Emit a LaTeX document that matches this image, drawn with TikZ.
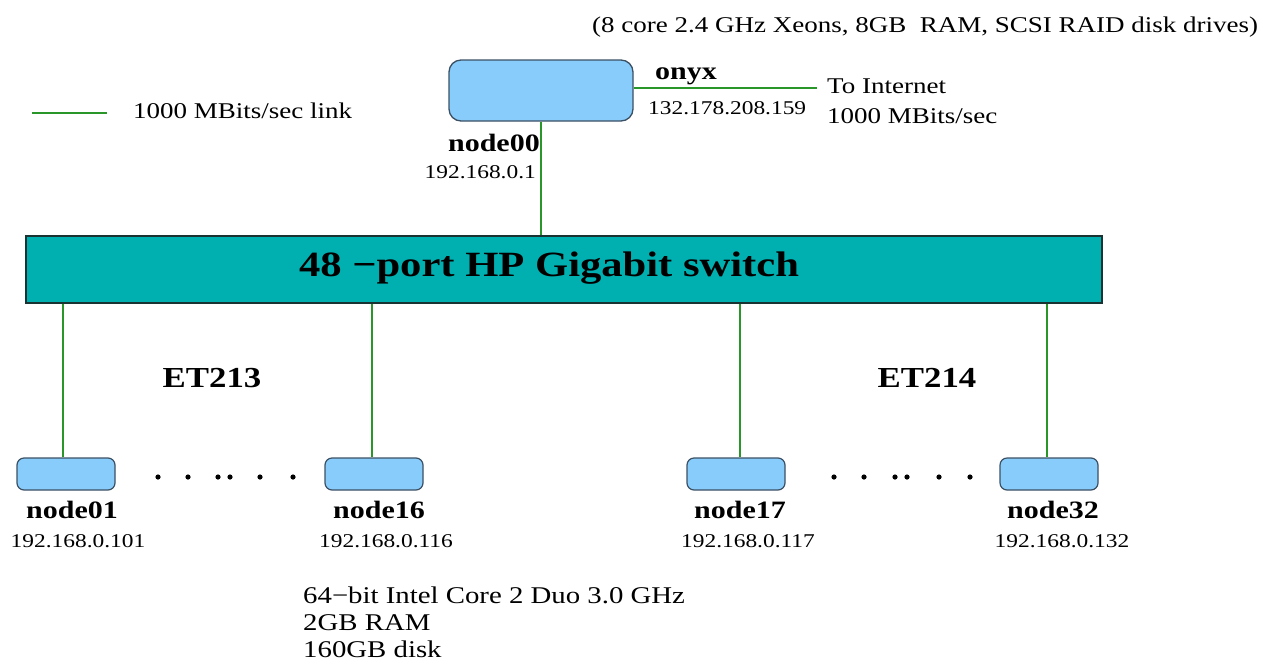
\documentclass[tikz,border=0pt]{standalone}
\usepackage{fontspec}
\setmainfont[FakeStretch=1.2]{Liberation Serif}
\definecolor{linkgreen}{RGB}{40,150,40}
\definecolor{boxfill}{RGB}{135,204,250}
\definecolor{boxedge}{RGB}{60,80,100}
\definecolor{swfill}{RGB}{0,176,176}
\definecolor{swedge}{RGB}{25,50,50}
\tikzset{
  link/.style={draw=linkgreen, line width=1.6pt},
  srv/.style={draw=boxedge, fill=boxfill, line width=1.3pt, rounded corners=12pt, inner sep=0pt},
  leaf/.style={draw=boxedge, fill=boxfill, line width=1.2pt, rounded corners=7pt, inner sep=0pt, minimum width=98pt, minimum height=32pt},
  swbox/.style={draw=swedge, fill=swfill, line width=1.8pt, inner sep=0pt},
  reg/.style={inner sep=0pt, font=\fontsize{22.5}{26}\selectfont},
  ip/.style={inner sep=0pt, font=\fontsize{19.5}{23}\selectfont},
  lab/.style={inner sep=0pt, font=\fontsize{25}{29}\selectfont\bfseries},
  room/.style={inner sep=0pt, font=\fontsize{29}{33}\selectfont\bfseries},
  swtext/.style={inner sep=0pt, font=\fontsize{35.5}{40}\selectfont\bfseries},
  spec/.style={inner sep=0pt, align=left, font=\fontsize{24}{27}\selectfont},
  dotmark/.style={fill=black}
}
\begin{document}
\begin{tikzpicture}[x=1pt,y=-1pt]
\useasboundingbox (0,0) rectangle (1282,662);
% top description
\node[reg, anchor=west] (desc) at (592,27) {(8 core 2.4 GHz Xeons, 8GB\ \ RAM, SCSI RAID disk drives)};
% legend
\coordinate (lg1) at (32,113);
\coordinate (lg2) at (107,113);
\draw[link] (lg1) -- (lg2);
\node[reg, anchor=west] (lgtext) at (133,111) {1000 MBits/sec link};
% head node
\node[srv, minimum width=184pt, minimum height=61pt] (n00) at (541,90.5) {};
\coordinate (inet) at (817,88);
\draw[link] (n00.east |- inet) -- (inet);
\node[lab, anchor=west] (onyx) at (655,76) {onyx};
\node[ip, anchor=west] (onyxip) at (648,108) {132.178.208.159};
\node[reg, anchor=west] (toinet) at (827,86) {To Internet};
\node[reg, anchor=west] (inetspeed) at (827,116) {1000 MBits/sec};
\node[lab, anchor=east] (l00) at (540,143) {node00};
\node[ip, anchor=east] (ip00) at (536,172) {192.168.0.1};
% switch
\node[swbox, minimum width=1076pt, minimum height=67pt] (sw) at (564,269.5) {};
\node[swtext] (swlabel) at (549,268) {48 −port HP Gigabit switch};
\draw[link] (n00.south) -- (n00.south |- sw.north);
% rooms
\node[room] (et213) at (212,378) {ET213};
\node[room] (et214) at (927,378) {ET214};
% leaf nodes
\node[leaf] (n01) at (66,474) {};
\node[leaf] (n16) at (374,474) {};
\node[leaf] (n17) at (736,474) {};
\node[leaf] (n32) at (1049,474) {};
\draw[link] ([xshift=-3pt]n01.north) -- ([xshift=-3pt]n01.north |- sw.south);
\draw[link] ([xshift=-2pt]n16.north) -- ([xshift=-2pt]n16.north |- sw.south);
\draw[link] ([xshift=4pt]n17.north) -- ([xshift=4pt]n17.north |- sw.south);
\draw[link] ([xshift=-2pt]n32.north) -- ([xshift=-2pt]n32.north |- sw.south);
\node[lab] (l01) at (72,510) {node01};
\node[ip] (ip01) at (78,541) {192.168.0.101};
\node[lab] (l16) at (379,510) {node16};
\node[ip] (ip16) at (386,541) {192.168.0.116};
\node[lab] (l17) at (740,510) {node17};
\node[ip] (ip17) at (748,541) {192.168.0.117};
\node[lab] (l32) at (1053,510) {node32};
\node[ip] (ip32) at (1062,541) {192.168.0.132};
% dots
\foreach \x in {158,188,218,230,260,293} \fill[dotmark] (\x,477) circle (2.6pt);
\foreach \x in {834,864,895,907,939,970} \fill[dotmark] (\x,477) circle (2.6pt);
% spec
\node[spec, anchor=west] (specs) at (303,622) {64−bit Intel Core 2 Duo 3.0 GHz\\2GB RAM\\160GB disk};
\end{tikzpicture}
\end{document}
